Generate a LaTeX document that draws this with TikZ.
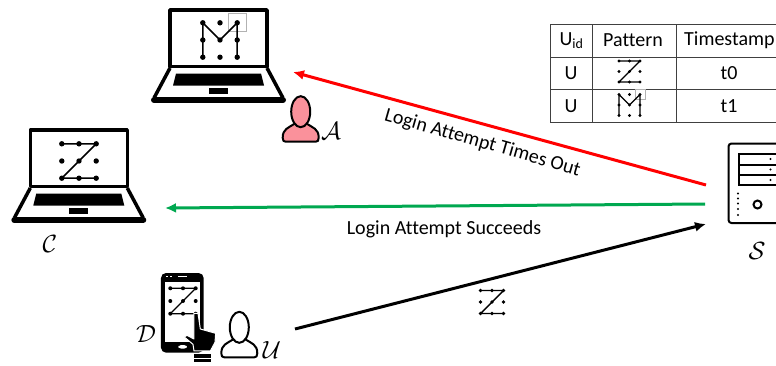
\documentclass[tikz,border=0pt]{standalone}
\usepackage{fontspec}
\setmainfont{Carlito}[Ligatures=NoCommon]
\usetikzlibrary{arrows.meta}
\definecolor{attackred}{RGB}{255,0,0}
\definecolor{okgreen}{RGB}{0,168,80}
\definecolor{pinkbody}{RGB}{250,145,155}
\tikzset{
  x=1pt,y=-1pt,
  dot/.style={fill=black,draw=none},
  patline/.style={line cap=round,line join=round,draw=black},
  tline/.style={draw=black!75,line width=1pt},
  lbl/.style={font=\fontsize{20}{22}\selectfont,inner sep=0pt,text=black},
  cell/.style={font=\fontsize{20}{22}\selectfont,inner sep=0pt,text=black},
  cal/.style={font=\fontsize{26}{28}\selectfont,inner sep=0pt,text=black},
  flow/.style={line width=3pt,-{Latex[length=11pt,width=10pt]}},
  pics/dots/.style args={#1/#2}{code={
    \foreach \ix in {-1,0,1}{\foreach \iy in {-1,0,1}{
      \fill[dot] (\ix*#1,\iy*#1) circle (#2);}}
  }},
  pics/zpat/.style args={#1/#2/#3}{code={
    \draw[patline,line width=#3] (-#1,-#1) -- (#1,-#1) -- (-#1,#1) -- (#1,#1);
    \pic {dots=#1/#2};
  }},
  pics/mpat/.style args={#1/#2/#3}{code={
    \draw[patline,line width=#3] (-#1,#1) -- (-#1,-#1) -- (0,0) -- (#1,-#1) -- (#1,#1);
    \pic {dots=#1/#2};
  }},
  pics/laptop/.style={code={
    \draw[line width=3.5pt,line join=round,fill=white] (3,4) rectangle (100,60.5);
    \draw[line width=3.5pt,line join=round] (3,62) -- (-13,92);
    \draw[line width=3.5pt,line join=round] (100,62) -- (116,92);
    \draw[line width=6pt,line cap=round] (-13,94) -- (116,94);
    \fill (9,67.5) -- (94,67.5) -- (97,79.5) -- (6,79.5) -- cycle;
    \fill (42,82) rectangle (61,88);
  }},
  pics/person/.style={code={
    \draw[line width=2pt,fill=#1,line join=round]
      (-6,12) .. controls (-12,16) and (-18,17) .. (-18,26)
      .. controls (-18,29) and (-17,30) .. (-15,30) -- (15,30)
      .. controls (17,30) and (18,29) .. (18,26)
      .. controls (18,17) and (12,16) .. (6,12) -- cycle;
    \draw[line width=2pt,fill=#1] (0,0) ellipse (9.5 and 15.5);
  }},
}
\begin{document}
\begin{tikzpicture}
\clip (0,0) rectangle (776,365);
\fill[white] (0,0) rectangle (776,365);

% laptop A side
\pic at (167,6) {laptop};
\draw[black!30,line width=0.6pt] (228,13) rectangle (246,31);
\pic at (220,40) {mpat=17.2/2.7/1.5};
% attacker
\pic at (300.7,111.7) {person=pinkbody};
\node[cal] (attacker) at (331,131) {$\mathcal{A}$};

% laptop C
\pic at (27.3,126) {laptop};
\pic at (79,161) {zpat=17.2/2.7/1.5};
\node[cal] (client) at (50,244) {$\mathcal{C}$};

% device
\begin{scope}[shift={(125,265)},x=0.3333pt,y=-0.3333pt]
  \fill[black,rounded corners=5pt] (108,24) rectangle (236,263);
  \fill[white] (121,50) rectangle (225,232);
  \fill[white] (122,32) rectangle (130,37);
  \fill[white] (136,33) rectangle (141,36);
  \fill[white] (160,34) rectangle (186,37);
  \fill[white,rounded corners=3pt] (160,240) rectangle (186,251);
\end{scope}
\pic at (183,301) {zpat=12.7/2/1.2};
\begin{scope}[shift={(125,265)},x=0.3333pt,y=-0.3333pt]
  \draw[white,line width=1pt,fill=black,line join=round]
    (207,145) -- (219,145) -- (226,192) -- (272,205) -- (270,232) -- (256,258) -- (207,258)
    -- (204,238) -- (178,216) -- (186,211) -- (207,222) -- cycle;
  \fill[black] (208,266) rectangle (258,278);
  \fill[black] (208,283) rectangle (258,291);
\end{scope}
\node[cal] (device) at (146,334) {$\mathcal{D}$};

% user
\pic at (239.3,327.3) {person=white};
\node[cal] (user) at (272,350) {$\mathcal{U}$};

% server
\draw[line width=2pt,rounded corners=3pt,fill=white] (728.5,143.5) rectangle (790,223);
\draw[line width=2pt] (739,153.5) rectangle (790,164.5);
\draw[line width=2pt] (739,164.5) rectangle (790,175);
\draw[line width=2pt] (739,175) rectangle (790,185);
\foreach \yy in {159,169.5,180}{\fill (770.5,\yy) circle (1.2);}
\foreach \yy in {193.5,198.5,203.5,209,215}{\fill (738,\yy) circle (1.1);}
\draw[line width=2pt] (757.5,204.5) circle (4);
\node[cal] (server) at (757,251) {$\mathcal{S}$};

% table
\draw[tline] (550,24) -- (776,24);
\draw[tline] (550,57) -- (776,57);
\draw[tline] (550,89.5) -- (776,89.5);
\draw[tline] (550,122) -- (776,122);
\draw[tline] (550,24) -- (550,122);
\draw[tline] (592.5,24) -- (592.5,122);
\draw[tline] (676,24) -- (676,122);
\node[cell] (h1) at (571.5,41) {U\textsubscript{id}};
\node[cell] (h2) at (633,40.5) {Pattern};
\node[cell,anchor=west] (h3) at (684,40.5) {Timestamp};
\node[cell] (r1a) at (571,73.5) {U};
\node[cell] (r1c) at (729,73.5) {t0};
\node[cell] (r2a) at (571,106) {U};
\node[cell] (r2c) at (729,106) {t1};
\pic at (629.5,71.5) {zpat=10.5/1.6/1.2};
\draw[black!30,line width=0.5pt] (635,89.5) rectangle (645,99);
\pic at (629.5,105) {mpat=10.5/1.6/1.2};

% message icon
\pic at (492,302) {zpat=11.5/1.9/1.4};

% connectors
\coordinate (srvR) at (706,185);
\coordinate (cliA) at (293,72);
\coordinate (srvG) at (705,204);
\coordinate (cliC) at (165,208);
\coordinate (usrB) at (295,329);
\coordinate (srvB) at (706,224);
\draw[flow,draw=attackred,color=attackred] (srvR) -- (cliA);
\draw[flow,draw=okgreen,color=okgreen] (srvG) -- (cliC);
\draw[flow,black] (usrB) -- (srvB);

\node[lbl,rotate=-16] (timeout) at (482.5,143) {Login Attempt Times Out};
\node[lbl] (success) at (444,229) {Login Attempt Succeeds};
\end{tikzpicture}
\end{document}
